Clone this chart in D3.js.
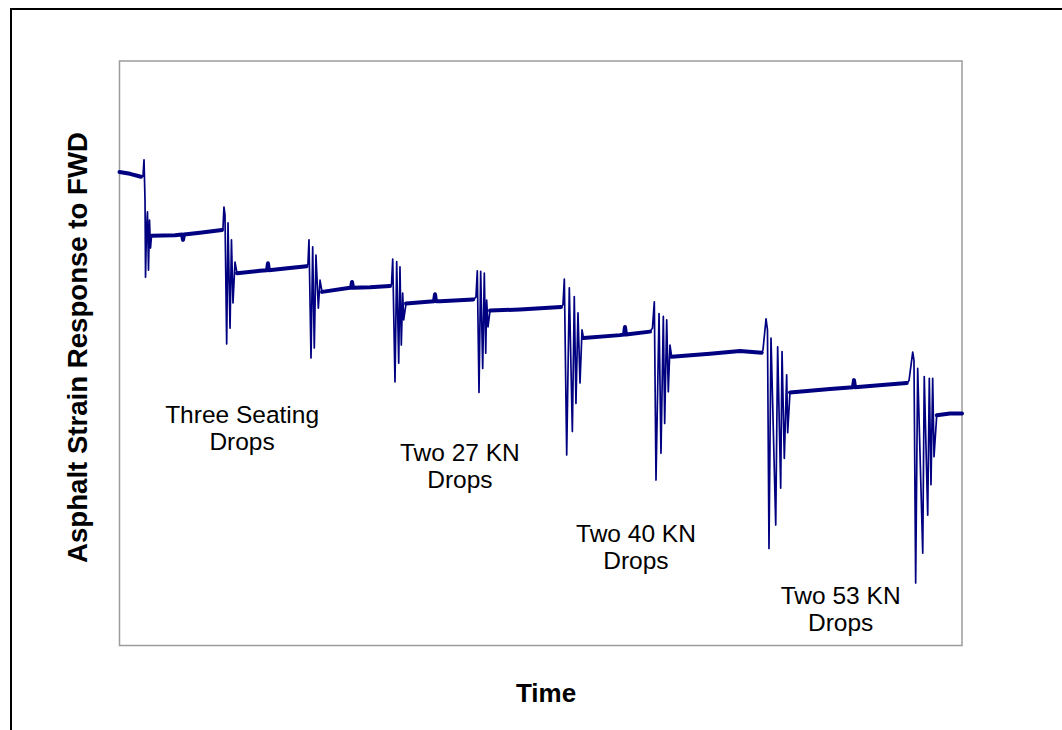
<!DOCTYPE html>
<html>
<head>
<meta charset="utf-8">
<script src="https://cdn.jsdelivr.net/npm/d3@7"></script>
<style>
  html, body { margin: 0; padding: 0; background: #ffffff; }
  svg { display: block; }
  text { font-family: "Liberation Sans", Arial, sans-serif; fill: #000; }
</style>
</head>
<body>
<svg id="chart" width="1062" height="730"></svg>
<script>
// Strain gauge record (relative units) over the FWD test sequence (time, % of record)
const time = [
  0, 1.25, 2.55,
  2.79, 2.91, 3.03, 3.09, 3.20, 3.32, 3.44, 3.56, 3.68, 3.80,
  6.59, 7.42, 7.54, 7.66, 9.55, 12.17,
  12.28, 12.40, 12.52, 12.72, 12.88, 13.12, 13.29, 13.47, 13.71, 13.95,
  16.68, 17.51, 17.62, 17.74, 19.64, 22.22,
  22.37, 22.49, 22.73, 22.93, 23.12, 23.32, 23.60, 23.80, 24.04,
  27.36, 27.48, 27.60, 27.72, 29.73, 32.11,
  32.29, 32.43, 32.70, 32.90, 33.14, 33.29, 33.45, 33.61, 33.73, 34.01,
  37.33, 37.45, 37.57, 38.04, 41.99,
  42.31, 42.47, 42.67, 42.87, 43.11, 43.30, 43.47, 43.58, 43.74, 43.98,
  47.54, 52.40,
  52.64, 52.80, 53.08, 53.39, 53.75, 53.98, 54.18, 54.42, 54.66, 54.90, 55.07,
  59.41, 59.88, 60.00, 60.12, 62.97,
  63.26, 63.48, 63.68, 64.04, 64.27, 64.55, 64.71, 64.95, 65.14, 65.34, 65.54,
  70.09, 73.65, 76.23,
  76.38, 76.74, 76.91, 77.09, 77.33, 77.89, 78.12, 78.48, 78.64, 78.91, 79.19, 79.31, 79.58,
  84.33, 87.06, 87.18, 87.30, 89.08, 93.44,
  93.71, 94.15, 94.30, 94.50, 94.74, 95.34, 95.52, 95.93, 96.12, 96.32, 96.52, 96.68, 97.00,
  98.58, 100
];

const strain = [
  81.0, 80.7, 80.2,
  80.3, 83.1, 76.2, 63.0, 71.1, 74.2, 64.2, 72.8, 68.0, 70.1,
  70.2, 70.3, 69.4, 70.3, 70.6, 71.1,
  71.3, 75.0, 73.7, 51.6, 72.3, 54.3, 69.4, 58.6, 65.6, 63.7,
  64.1, 64.2, 65.4, 64.2, 64.5, 64.9,
  65.3, 69.4, 49.2, 68.2, 50.9, 66.8, 57.7, 62.5, 60.5,
  61.2, 61.2, 62.2, 61.2, 61.3, 61.5,
  61.8, 66.1, 45.1, 65.7, 48.3, 64.8, 51.4, 60.3, 55.7, 58.5,
  58.9, 60.1, 58.9, 58.9, 59.2,
  59.6, 64.1, 43.3, 64.0, 47.4, 63.7, 50.0, 59.1, 54.5, 57.3,
  57.5, 57.9,
  58.3, 62.7, 32.6, 61.2, 36.6, 59.7, 41.4, 56.9, 44.9, 54.0, 52.6,
  53.1, 53.2, 54.5, 53.2, 53.7,
  54.3, 58.8, 28.3, 56.8, 32.9, 56.3, 38.0, 55.7, 43.4, 51.4, 49.4,
  49.9, 50.4, 50.1,
  50.6, 55.9, 54.0, 16.6, 52.6, 20.6, 51.1, 26.9, 50.3, 32.0, 46.3, 36.4, 43.3,
  43.9, 44.2, 45.4, 44.2, 44.4, 44.9,
  45.3, 50.2, 48.8, 10.7, 47.4, 15.8, 46.0, 22.3, 45.7, 27.5, 45.7, 32.3, 39.4,
  39.7, 39.7
];

// Quiet stretches between drops, where the gauge noise gives a wider trace
const restSpans = [
  [0, 2.6], [3.8, 12.2], [13.95, 22.25], [24.04, 32.15], [34.0, 42.0],
  [43.98, 52.45], [55.07, 63.0], [65.54, 76.25], [79.58, 93.45], [97.0, 100]
];

// Annotations for each drop group
const dropLabels = [
  { lines: ["Three Seating", "Drops"], t: 14.55, v: 38.1 },
  { lines: ["Two 27 KN", "Drops"], t: 40.4, v: 31.5 },
  { lines: ["Two 40 KN", "Drops"], t: 61.3, v: 17.7 },
  { lines: ["Two 53 KN", "Drops"], t: 85.6, v: 7.1 }
];

const yTitle = "Asphalt Strain Response to FWD";
const xTitle = "Time";

const svg = d3.select("#chart");
const W = 1062, H = 730;
const plot = { left: 119.5, top: 61, right: 962, bottom: 645.5 };

// Outer frame
svg.append("rect")
  .attr("x", 11).attr("y", 9)
  .attr("width", W + 40).attr("height", H + 40)
  .attr("fill", "none").attr("stroke", "#000").attr("stroke-width", 2);

const x = d3.scaleLinear().domain([0, 100]).range([plot.left, plot.right]);
const y = d3.scaleLinear().domain([0, 100]).range([plot.bottom, plot.top]);

// Plot area border
svg.append("rect")
  .attr("x", plot.left).attr("y", plot.top)
  .attr("width", plot.right - plot.left).attr("height", plot.bottom - plot.top)
  .attr("fill", "none").attr("stroke", "#9c9c9c").attr("stroke-width", 1.5);

const pts = time.map((t, i) => ({ t, v: strain[i] }));
const line = d3.line().x(d => x(d.t)).y(d => y(d.v));

const g = svg.append("g");

// Wider band along the quiet stretches
restSpans.forEach(([a, b]) => {
  const seg = pts.filter(d => d.t >= a && d.t <= b);
  if (seg.length > 1) {
    g.append("path").datum(seg)
      .attr("d", line)
      .attr("fill", "none")
      .attr("stroke", "#000080")
      .attr("stroke-width", 4)
      .attr("stroke-linejoin", "round")
      .attr("stroke-linecap", "round");
  }
});

// Full trace
g.append("path").datum(pts)
  .attr("d", line)
  .attr("fill", "none")
  .attr("stroke", "#000080")
  .attr("stroke-width", 1.7)
  .attr("stroke-linejoin", "round");

// Drop annotations
dropLabels.forEach(lab => {
  const tx = svg.append("text")
    .attr("text-anchor", "middle")
    .attr("font-size", 24.5)
    .attr("x", x(lab.t))
    .attr("y", y(lab.v));
  lab.lines.forEach((s, i) => {
    tx.append("tspan")
      .attr("x", x(lab.t))
      .attr("dy", i === 0 ? 0 : 27)
      .text(s);
  });
});

// Axis titles
svg.append("text")
  .attr("text-anchor", "middle")
  .attr("font-size", 27.6)
  .attr("font-weight", "bold")
  .attr("transform", "translate(87,347.5) rotate(-90)")
  .text(yTitle);

svg.append("text")
  .attr("text-anchor", "middle")
  .attr("font-size", 26)
  .attr("font-weight", "bold")
  .attr("x", 546)
  .attr("y", 702)
  .text(xTitle);
</script>
</body>
</html>
